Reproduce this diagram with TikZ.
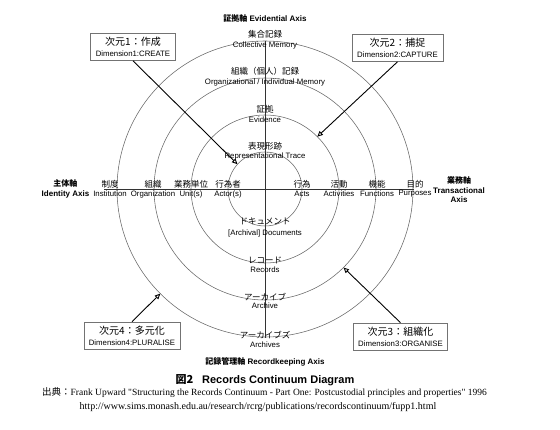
\documentclass[tikz,border=0pt]{standalone}
\usepackage{fontspec}
\setmainfont{Liberation Serif}
\setsansfont{Liberation Sans}
\newfontfamily\jp{Noto Sans CJK JP}
\newfontfamily\srcfont{Liberation Serif}[Ligatures=TeXOff]
\usetikzlibrary{arrows.meta}
\begin{document}
\begin{tikzpicture}[x=1pt,y=1pt,
  ring/.style={draw=black!60, line width=0.55pt},
  axisline/.style={draw=black!80, line width=0.8pt},
  jl/.style={font=\jp\fontsize{8.5}{9}\selectfont, inner sep=0pt},
  el/.style={font=\sffamily\fontsize{7.8}{9}\selectfont, inner sep=0pt},
  axtitle/.style={font=\sffamily\bfseries\fontsize{8}{10}\selectfont, inner sep=0pt, align=center},
  dimbox/.style={draw=black!55, line width=0.6pt, fill=white, align=center, inner xsep=5pt, inner ysep=3pt, minimum height=27pt},
  conn/.style={draw=black, line width=0.9pt, -{Triangle[open, length=5.5pt, width=5pt]}},
]
\useasboundingbox (0,0) rectangle (560,429);
\coordinate (C) at (265,240);
% rings
\foreach \r in {37,74,111,148} \draw[ring] (C) circle (\r pt);
% axes
\coordinate (axL) at (104,240);
\coordinate (axR) at (414,240);
\coordinate (axT) at (265,388);
\coordinate (axB) at (265,91);
\draw[axisline] (axL) -- (axR);
\draw[axisline] (axT) -- (axB);
% axis titles
\node[axtitle] (tTop) at (265,411) {{\jp\bfseries 証拠軸} Evidential Axis};
\node[axtitle] (tBot) at (265,67) {{\jp\bfseries 記録管理軸} Recordkeeping Axis};
\node[axtitle] (tLeft) at (65.5,240) {{\jp\bfseries 主体軸}\\[-0.5pt]Identity Axis};
\node[axtitle] (tRight) at (459,239) {{\jp\bfseries 業務軸}\\[-0.5pt]Transactional\\[-0.5pt]Axis};
% evidential axis labels
\node[jl] (e4j) at (265,395) {集合記録};
\node[el] (e4e) at (265,383.5) {Collective Memory};
\node[jl] (e3j) at (265,358) {組織（個人）記録};
\node[el] (e3e) at (265,346.5) {Organizational / Individual Memory};
\node[jl] (e2j) at (265,320) {証拠};
\node[el] (e2e) at (265,309.5) {Evidence};
\node[jl] (e1j) at (265,283) {表現形跡};
\node[el] (e1e) at (265,272.5) {Representational Trace};
% recordkeeping axis labels
\node[jl] (r1j) at (265,208) {ドキュメント};
\node[el] (r1e) at (265,196) {[Archival] Documents};
\node[jl] (r2j) at (265,169) {レコード};
\node[el] (r2e) at (265,159) {Records};
\node[jl] (r3j) at (265,132) {アーカイブ};
\node[el] (r3e) at (265,123) {Archive};
\node[jl] (r4j) at (265,94) {アーカイブズ};
\node[el] (r4e) at (265,84) {Archives};
% identity axis labels
\node[jl] (i4j) at (110,244.5) {制度};
\node[el] (i4e) at (110,235) {Institution};
\node[jl] (i3j) at (153,244.5) {組織};
\node[el] (i3e) at (153,235) {Organization};
\node[jl] (i2j) at (191,244.5) {業務単位};
\node[el] (i2e) at (191,235) {Unit(s)};
\node[jl] (i1j) at (228,244.5) {行為者};
\node[el] (i1e) at (228,235) {Actor(s)};
% transactional axis labels
\node[jl] (t1j) at (302,244.5) {行為};
\node[el] (t1e) at (302,235) {Acts};
\node[jl] (t2j) at (339,244.5) {活動};
\node[el] (t2e) at (339,235) {Activities};
\node[jl] (t3j) at (377,244.5) {機能};
\node[el] (t3e) at (377,235) {Functions};
\node[jl] (t4j) at (415,244.5) {目的};
\node[el] (t4e) at (415,235) {Purposes};
% dimension boxes
\node[dimbox] (b1) at (133,382) {{\jp\fontsize{10}{12}\selectfont 次元1：作成}\\[-1pt]{\sffamily\fontsize{7.8}{9}\selectfont Dimension1:CREATE}};
\node[dimbox] (b2) at (397.5,381) {{\jp\fontsize{10}{12}\selectfont 次元2：捕捉}\\[-1pt]{\sffamily\fontsize{7.8}{9}\selectfont Dimension2:CAPTURE}};
\node[dimbox] (b3) at (400.5,92.5) {{\jp\fontsize{10}{12}\selectfont 次元3：組織化}\\[-1pt]{\sffamily\fontsize{7.8}{9}\selectfont Dimension3:ORGANISE}};
\node[dimbox] (b4) at (132,93.5) {{\jp\fontsize{10}{12}\selectfont 次元4：多元化}\\[-1pt]{\sffamily\fontsize{7.8}{9}\selectfont Dimension4:PLURALISE}};
% arrow targets on rings
\coordinate (a1) at ([shift={(138:37pt)}]C);
\coordinate (a2) at ([shift={(45:74pt)}]C);
\coordinate (a3) at ([shift={(-45:111pt)}]C);
\coordinate (a4) at ([shift={(-135:148pt)}]C);
\draw[conn] (b1.south) -- (a1);
\draw[conn] (b2.south) -- (a2);
\draw[conn] (b3.north) -- (a3);
\draw[conn] (b4.north) -- (a4);
% caption
\node[inner sep=0pt, font=\sffamily\bfseries\fontsize{11}{13}\selectfont] (cap) at (265,49) {{\jp\bfseries 図2}\hspace{0.8em}Records Continuum Diagram};
\node[inner sep=0pt, font=\srcfont\fontsize{9.5}{11}\selectfont] (src) at (264.5,36) {{\jp 出典：}Frank Upward "Structuring the Records Continuum - Part One: Postcustodial principles and properties" 1996};
\node[inner sep=0pt, font=\srcfont\fontsize{10}{12}\selectfont] (url) at (258,22) {http://www.sims.monash.edu.au/research/rcrg/publications/recordscontinuum/fupp1.html};
\end{tikzpicture}
\end{document}
